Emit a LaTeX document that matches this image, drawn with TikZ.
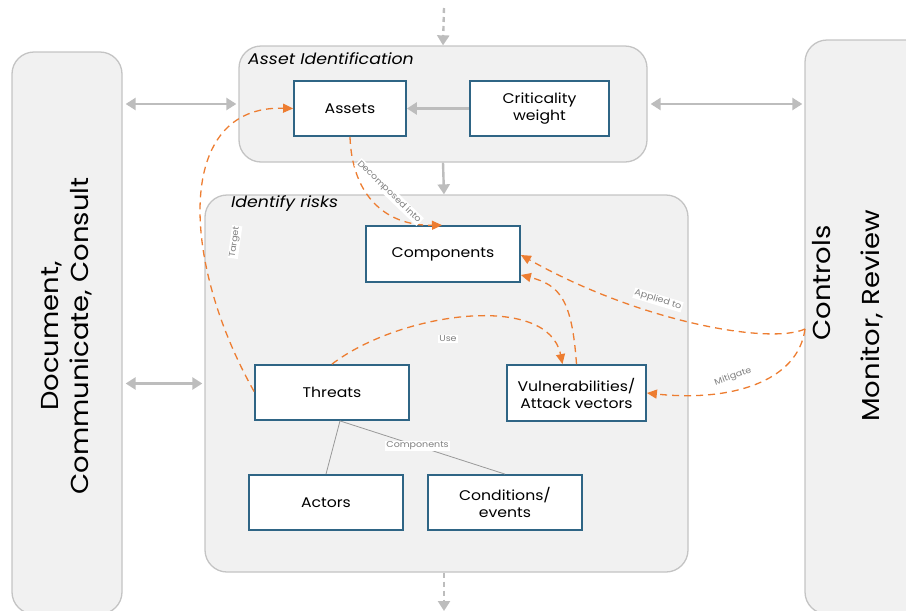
\documentclass[tikz,border=0pt]{standalone}
\usepackage{fontspec}
\setmainfont{Poppins}[FakeStretch=1.12]
\usetikzlibrary{arrows.meta,calc}
\definecolor{grpfill}{HTML}{F1F1F1}
\definecolor{grpdraw}{HTML}{C4C4C4}
\definecolor{boxdraw}{HTML}{2F6585}
\definecolor{arrgrey}{HTML}{BDBDBD}
\definecolor{orng}{HTML}{ED7D31}
\definecolor{lblgrey}{HTML}{808080}
\tikzset{
  grp/.style={draw=grpdraw,fill=grpfill,line width=1.3pt,rounded corners=22pt,inner sep=0pt},
  bx/.style={draw=boxdraw,fill=white,line width=1.8pt,inner sep=0pt,align=center,font=\fontsize{14}{17}\selectfont},
  garr/.style={draw=arrgrey,line width=2.4pt,-{Triangle[length=10pt,width=12pt]}},
  gdarr/.style={draw=arrgrey,line width=2.4pt,{Triangle[length=10pt,width=12pt]}-{Triangle[length=10pt,width=12pt]}},
  oarr/.style={draw=orng,line width=1.3pt,dash pattern=on 7pt off 5pt,-{Triangle[length=10pt,width=9pt]}},
  elbl/.style={fill=white,inner sep=1pt,text=lblgrey,font=\fontsize{8.5}{9}\selectfont},
  gtitle/.style={anchor=west,inner sep=0pt,font=\fontsize{15.5}{17}\selectfont\itshape},
  big/.style={inner sep=0pt,align=center,rotate=90,font=\fontsize{24.5}{30}\selectfont}
}
\begin{document}
\begin{tikzpicture}[x=1pt,y=-1pt]
\useasboundingbox (0,0) rectangle (906,611);
\clip (0,0) rectangle (906,611);
% group boxes
\node[grp,minimum width=110pt,minimum height=562pt] (leftbox) at (67,333) {};
\node[grp,minimum width=130pt,minimum height=574pt] (rightbox) at (870,327) {};
\node[grp,minimum width=408pt,minimum height=116pt] (assetgrp) at (443,104) {};
\node[grp,minimum width=483pt,minimum height=377pt] (risks) at (446.5,383.5) {};
% titles
\node[gtitle] (t1) at (248,59) {Asset Identification};
\node[gtitle] (t2) at (231,204) {Identify risks};
\node[big] (doc) at (67,336) {Document,\\Communicate, Consult};
\node[big,anchor=center] (ctrl) at (822,283) {Controls};
\node[big,anchor=center] (mon) at (872,316) {Monitor, Review};
% boxes
\node[bx,minimum width=112pt,minimum height=55pt] (assets) at (350,108.5) {Assets};
\node[bx,minimum width=139pt,minimum height=55pt] (crit) at (539.5,108.5) {Criticality\\weight};
\node[bx,minimum width=154pt,minimum height=56pt] (comp) at (443,254) {Components};
\node[bx,minimum width=154pt,minimum height=55pt] (threats) at (332,392.5) {Threats};
\node[bx,minimum width=139pt,minimum height=56pt] (vuln) at (576.5,393) {Vulnerabilities/\\Attack vectors};
\node[bx,minimum width=154pt,minimum height=55pt] (actors) at (326,502.5) {Actors};
\node[bx,minimum width=154pt,minimum height=55pt] (cond) at (505,502.5) {Conditions/\\events};
% grey connectors
\coordinate (topin) at (444,8);
\coordinate (botout) at (444,611);
\draw[garr,dash pattern=on 5pt off 4pt] (topin) -- (assetgrp.north);
\draw[garr] (assetgrp.south) -- ($(risks.north)+(-2.5,0)$);
\draw[garr,dash pattern=on 5pt off 4pt] ($(risks.south)+(-2.5,0)$) -- (botout);
\draw[gdarr,shorten <=3pt,shorten >=2pt] (leftbox.east |- assetgrp.west) -- (assetgrp.west);
\draw[gdarr,shorten <=3pt,shorten >=2pt] (leftbox.east |- risks.west) -- (risks.west);
\draw[gdarr,shorten <=3pt,shorten >=2pt] (assetgrp.east) -- (rightbox.west |- assetgrp.east);
\draw[garr] (crit.west) -- (assets.east);
% component lines
\coordinate (tb) at ($(threats.south)+(8,0)$);
\draw[draw=lblgrey!80,line width=0.8pt] (tb) -- (actors.north);
\draw[draw=lblgrey!80,line width=0.8pt] (tb) -- node[elbl,pos=0.47] {Components} (cond.north);
% orange connectors
\draw[oarr] ($(threats.west)+(0,-1)$) .. controls (180,260) and (175,105) .. (assets.west);
\node[elbl,rotate=82] (ltarget) at (235,242) {Target};
\draw[oarr] (assets.south) .. controls (352,195) and (385,226) .. ($(comp.north)+(-1,0)$);
\node[elbl,rotate=-44] (ldec) at (389,192) {Decomposed into};
\draw[oarr] (threats.north) .. controls (400,312) and (548,292) .. ($(vuln.north)+(-14,0)$);
\node[elbl] (luse) at (448,339) {Use};
\draw[oarr] (vuln.north) .. controls (572,300) and (560,285) .. ($(comp.east)+(0,21)$);
\coordinate (cc) at (805,329);
\draw[oarr] (cc) .. controls (770,345) and (640,322) .. ($(comp.east)+(0,1)$);
\node[elbl,rotate=-17] (lapp) at (658,300) {Applied to};
\draw[oarr] (cc) .. controls (798,382) and (730,402) .. (vuln.east);
\node[elbl,rotate=20] (lmit) at (733,377) {Mitigate};
\end{tikzpicture}
\end{document}
